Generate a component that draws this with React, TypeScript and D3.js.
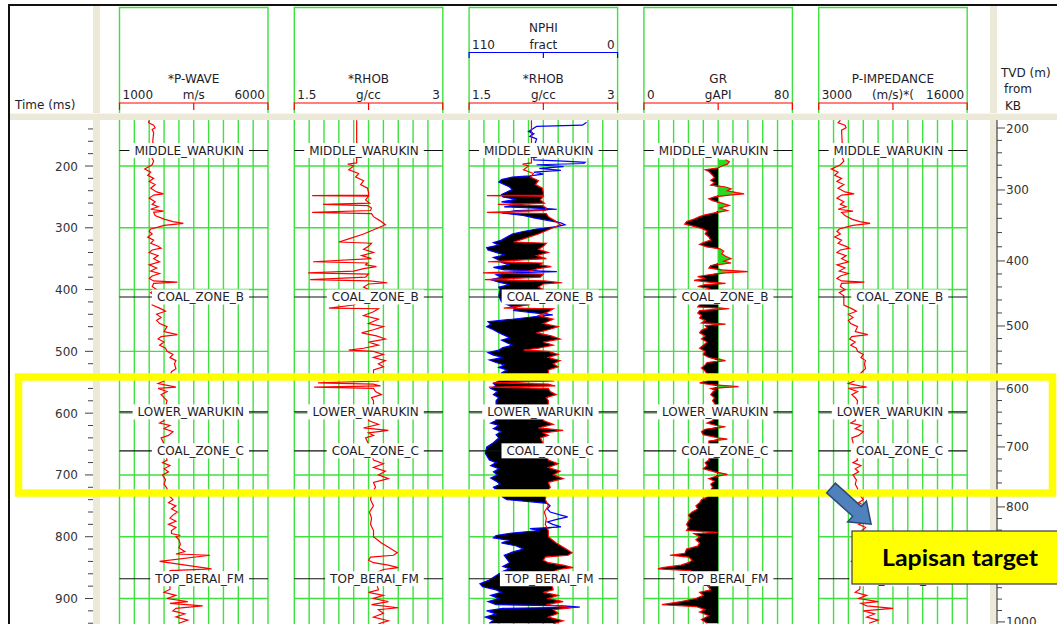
import React from 'react';
import * as d3 from 'd3';

type Pt = [number, number];

// ---- track definitions ----
const TRACK_TITLES = ['*P-WAVE', '*RHOB', '*RHOB', 'GR', 'P-IMPEDANCE'];
const TRACK_UNITS = ['m/s', 'g/cc', 'g/cc', 'gAPI', '(m/s)*('];
const TRACK_MIN = [1000, 1.5, 1.5, 0, 3000];
const TRACK_MAX = [6000, 3, 3, 80, 16000];
const NPHI_TITLE = 'NPHI';
const NPHI_UNIT = 'fract';
const NPHI_RANGE: [number, number] = [110, 0];
const GR_CUTOFF = 40;

// ---- axes ----
const TIME_LABELS = [200, 300, 400, 500, 600, 700, 800, 900];
const TVD_DEPTHS = [200, 300, 400, 500, 600, 700, 800, 900, 1000];
const TVD_TIMES = [138.5, 238.8, 353.7, 458.9, 560.8, 654.7, 751.8, 845.6, 937.9];

// ---- formation tops (time, ms) ----
const MARKER_NAMES = ['MIDDLE_WARUKIN', 'COAL_ZONE_B', 'LOWER_WARUKIN', 'COAL_ZONE_C', 'TOP_BERAI_FM'];
const MARKER_TIMES = [175, 412, 598, 661, 868];

// ---- log curves: [time ms, value] ----
const PWAVE: Pt[] = [
  [126, 2000], [130, 1980], [134, 2150], [138, 2200], [141, 2100], [146, 2150], [160, 2120], [175, 2150], [188, 2100],
  [192, 2150], [198, 2100], [205, 1850], [210, 2050], [215, 1950], [220, 2150], [225, 2000], [230, 2200], [236, 2050],
  [242, 2250], [245, 2480], [247, 2150], [252, 2000], [258, 2200], [262, 2100], [266, 2300], [270, 2050], [273, 2480],
  [275, 2150], [280, 2200], [286, 2500], [290, 2800], [293, 3150], [296, 2500], [299, 2300], [302, 2050], [306, 2000],
  [310, 2100], [315, 1950], [320, 2150], [325, 2050], [330, 2300], [333, 2400], [336, 2100], [340, 2000], [345, 2300],
  [350, 2150], [355, 2350], [360, 2000], [365, 2250], [370, 2050], [374, 2350], [378, 2100], [382, 2000], [386, 2150],
  [388, 2950], [390, 2150], [395, 2100], [400, 2250], [405, 2050], [410, 2200], [418, 2150], [425, 2100], [430, 2350],
  [435, 2550], [440, 2250], [445, 2400], [450, 2250], [455, 2350], [460, 2600], [468, 2500], [473, 2950], [476, 2400],
  [480, 2300], [485, 2500], [490, 2350], [495, 2550], [500, 2600], [505, 2800], [510, 2700], [515, 2900], [520, 2850],
  [528, 2900], [533, 2750], [540, 2700], [548, 2500], [552, 2300], [556, 2700], [558, 2900], [560, 2300], [565, 2600],
  [570, 2400], [575, 2500], [580, 2600], [590, 2550], [600, 2500], [612, 2500], [616, 2350], [620, 2700], [625, 2500],
  [630, 2800], [636, 2650], [640, 2400], [650, 2500], [665, 2550], [676, 2600], [680, 2450], [685, 2700], [690, 2500],
  [695, 2650], [700, 2450], [708, 2550], [715, 2500], [722, 2600], [730, 2600], [735, 2700], [740, 2800], [745, 2650],
  [750, 2900], [755, 2750], [760, 2950], [765, 2800], [770, 2700], [775, 2900], [780, 2650], [785, 2900], [790, 2750],
  [795, 2750], [798, 3050], [800, 2900], [805, 3000], [812, 3050], [818, 3000], [824, 3200], [828, 2900], [830, 4050],
  [840, 2350], [852, 4100], [855, 2700], [862, 2650], [875, 2700], [885, 2700], [890, 2500], [895, 2900], [900, 2600],
  [905, 3300], [908, 2700], [912, 3800], [916, 2900], [920, 2800], [925, 3200], [930, 2900], [935, 3300], [940, 3000],
];

const RHOB: Pt[] = [
  [126, 2.13], [142, 2.13], [190, 2.13], [195, 2.13], [197, 2.04], [200, 2.1], [206, 2.05], [212, 2.15], [218, 2.12],
  [224, 2.2], [230, 2.17], [236, 2.24], [243, 2.25], [247, 2.25], [248, 1.68], [249, 2.25], [255, 2.22], [260, 2.26],
  [262, 1.79], [264, 2.24], [268, 2.28], [272, 2.27], [275, 1.68], [277, 2.28], [282, 2.3], [288, 2.36], [295, 2.42],
  [300, 2.35], [310, 2.2], [318, 2.05], [323, 1.95], [325, 2.28], [330, 2.25], [335, 2.2], [340, 2.3], [345, 2.18],
  [350, 2.28], [355, 1.69], [357, 2.24], [360, 2.22], [363, 2.33], [366, 2.2], [370, 2.1], [373, 1.64], [375, 2.25],
  [380, 2.22], [384, 1.66], [386, 2.26], [389, 2.44], [391, 2.25], [396, 2.2], [400, 2.25], [410, 2.22], [425, 2.1],
  [430, 1.85], [431, 2.35], [436, 2.3], [442, 2.2], [448, 2.35], [455, 2.25], [460, 2.4], [465, 2.3], [470, 2.18],
  [475, 2.33], [480, 2.42], [485, 2.25], [490, 2.35], [495, 2.2], [498, 2.05], [500, 2.3], [505, 2.4], [510, 2.3],
  [515, 2.42], [520, 2.35], [525, 2.4], [530, 2.3], [540, 2.3], [548, 2.35], [551, 1.74], [553, 2.3], [556, 2.37],
  [558, 1.7], [560, 2.3], [565, 2.32], [570, 2.38], [575, 2.28], [580, 2.3], [590, 2.3], [600, 2.25], [612, 2.25],
  [618, 2.35], [624, 2.2], [628, 2.45], [632, 2.25], [636, 2.3], [640, 2.22], [650, 2.25], [676, 2.3], [682, 2.4],
  [688, 2.3], [694, 2.42], [700, 2.35], [706, 2.45], [712, 2.3], [720, 2.32], [730, 2.28], [740, 2.27], [750, 2.3],
  [760, 2.26], [770, 2.28], [780, 2.27], [790, 2.3], [800, 2.3], [810, 2.38], [818, 2.46], [826, 2.54], [830, 2.5],
  [833, 2.27], [838, 2.25], [842, 2.3], [846, 2.45], [850, 2.55], [853, 2.4], [860, 2.3], [886, 2.35], [890, 2.25],
  [895, 2.4], [900, 2.3], [905, 2.45], [910, 2.28], [915, 2.55], [918, 2.35], [924, 2.4], [930, 2.3], [936, 2.45],
  [941, 2.35],
];

const NPHI: Pt[] = [
  [129, 23], [131, 24], [134, 26], [136, 60], [140, 63], [144, 66], [148, 62], [152, 65], [156, 60], [170, 62],
  [186, 62], [190, 62], [192, 40], [194, 24], [196, 25], [198, 60], [201, 40], [204, 58], [207, 42], [210, 62],
  [213, 55], [216, 65], [218, 78], [222, 86], [226, 88], [230, 84], [234, 80], [238, 78], [242, 82], [246, 86],
  [250, 85], [254, 75], [258, 86], [262, 72], [266, 84], [270, 45], [272, 75], [276, 86], [280, 70], [284, 62],
  [288, 52], [292, 42], [295, 39], [298, 45], [302, 60], [306, 70], [310, 78], [315, 82], [320, 86], [324, 92],
  [328, 88], [332, 97], [336, 96], [340, 90], [344, 84], [348, 92], [352, 88], [356, 86], [360, 80], [364, 92],
  [368, 84], [371, 45], [373, 82], [376, 90], [380, 86], [384, 94], [388, 88], [392, 80], [396, 88], [400, 87],
  [410, 88], [420, 86], [426, 80], [430, 76], [434, 77], [438, 60], [441, 48], [444, 62], [448, 78], [452, 96],
  [456, 94], [460, 97], [465, 92], [470, 88], [474, 84], [478, 80], [482, 86], [486, 82], [490, 78], [494, 85],
  [498, 88], [502, 96], [506, 92], [510, 85], [514, 95], [518, 90], [522, 84], [526, 88], [530, 82], [535, 86],
  [540, 87], [548, 88], [552, 92], [556, 90], [560, 94], [565, 89], [570, 92], [575, 88], [580, 90], [590, 90],
  [600, 91], [612, 90], [616, 94], [620, 88], [625, 92], [630, 86], [635, 90], [640, 88], [648, 92], [655, 97],
  [665, 98], [676, 95], [680, 90], [685, 94], [690, 88], [695, 92], [700, 89], [705, 94], [710, 90], [715, 87],
  [720, 92], [728, 88], [736, 85], [740, 82], [746, 52], [750, 50], [755, 52], [760, 50], [765, 42], [768, 37],
  [772, 45], [776, 52], [780, 48], [784, 42], [787, 65], [790, 58], [794, 78], [798, 90], [802, 92], [806, 80],
  [810, 86], [815, 75], [820, 70], [825, 78], [830, 84], [836, 82], [842, 80], [848, 85], [852, 80], [856, 85],
  [870, 95], [876, 102], [881, 100], [886, 90], [890, 86], [895, 94], [900, 88], [905, 96], [910, 90], [912, 40],
  [914, 28], [916, 85], [920, 97], [925, 90], [930, 98], [935, 92], [940, 95],
];

const GR: Pt[] = [
  [190, 44], [193, 46], [197, 45], [200, 42], [203, 40], [206, 33], [209, 35], [212, 36], [215, 37], [219, 38],
  [223, 36], [227, 38], [231, 36], [234, 44], [237, 47], [240, 45], [243, 50], [245, 54], [247, 46], [250, 38],
  [253, 35], [256, 37], [260, 42], [264, 46], [268, 41], [272, 45], [276, 38], [279, 33], [282, 30], [286, 27],
  [290, 23], [294, 22], [297, 26], [301, 31], [305, 34], [310, 33], [315, 35], [320, 36], [324, 32], [327, 30],
  [331, 34], [334, 41], [338, 43], [342, 42], [346, 44], [350, 47], [354, 43], [357, 47], [361, 36], [365, 35],
  [368, 42], [371, 56], [373, 44], [376, 35], [379, 29], [382, 33], [385, 27], [388, 35], [390, 44], [392, 33],
  [395, 29], [398, 35], [402, 32], [410, 30], [420, 31], [428, 29], [431, 46], [434, 30], [438, 29], [442, 31],
  [446, 30], [450, 33], [454, 31], [456, 44], [458, 33], [462, 34], [466, 31], [470, 30], [475, 33], [480, 31],
  [485, 34], [490, 32], [495, 30], [500, 33], [505, 32], [510, 35], [515, 44], [518, 34], [522, 33], [527, 31],
  [532, 33], [537, 34], [542, 33], [548, 34], [551, 30], [554, 36], [557, 51], [560, 36], [563, 38], [566, 37],
  [570, 36], [575, 38], [580, 37], [584, 38], [598, 37], [612, 37], [616, 34], [620, 39], [622, 44], [626, 33],
  [630, 31], [635, 32], [640, 40], [642, 45], [645, 35], [660, 35], [676, 35], [680, 33], [685, 34], [690, 32],
  [695, 38], [699, 45], [703, 38], [706, 35], [710, 38], [715, 36], [720, 37], [728, 35], [736, 34], [740, 31],
  [745, 30], [750, 28], [755, 29], [760, 26], [765, 24], [770, 25], [775, 24], [780, 23], [785, 24], [790, 23],
  [793, 40], [795, 27], [800, 30], [805, 28], [810, 30], [815, 29], [820, 23], [827, 22], [830, 14], [833, 24],
  [838, 26], [842, 24], [846, 20], [850, 10], [852, 7.5], [855, 25], [868, 30], [882, 35], [886, 36], [890, 30],
  [895, 32], [900, 28], [905, 20], [910, 9.7], [913, 28], [918, 33], [922, 30], [928, 35], [934, 31], [940, 34],
];

const PIMP: Pt[] = [
  [126, 4900], [130, 4700], [134, 5300], [138, 5400], [142, 5000], [160, 5050], [175, 5100], [188, 5100], [192, 5200],
  [198, 4900], [205, 4100], [210, 4700], [215, 4400], [220, 5000], [225, 4600], [230, 5200], [236, 4700], [242, 5300],
  [245, 6100], [247, 5000], [252, 4600], [258, 5200], [262, 4900], [266, 5400], [270, 4700], [273, 6000], [275, 5000],
  [280, 5300], [286, 5900], [290, 6600], [293, 7500], [296, 6000], [299, 5400], [302, 4800], [306, 4600], [310, 4900],
  [315, 4400], [320, 5000], [325, 4700], [330, 5400], [333, 5700], [336, 4900], [340, 4600], [345, 5400], [350, 5000],
  [355, 5600], [360, 4600], [365, 5300], [370, 4800], [374, 5600], [378, 4900], [382, 4600], [386, 5000], [388, 7000],
  [390, 5000], [395, 4900], [400, 5300], [405, 4800], [410, 5200], [425, 5200], [430, 5800], [435, 6300], [440, 5600],
  [445, 6000], [450, 5600], [455, 5800], [460, 6400], [468, 6200], [473, 7300], [476, 5900], [480, 5700], [485, 6200],
  [490, 5800], [495, 6300], [500, 6400], [505, 6900], [510, 6700], [515, 7100], [520, 7000], [528, 7100], [533, 6800],
  [548, 6100], [552, 5600], [556, 6600], [558, 7200], [560, 5600], [565, 6400], [570, 5900], [575, 6200], [580, 6400],
  [612, 6200], [616, 5800], [620, 6700], [625, 6200], [630, 6900], [636, 6500], [640, 5900], [676, 6400], [680, 6000],
  [685, 6700], [690, 6200], [695, 6500], [700, 6000], [708, 6300], [715, 6200], [722, 6400], [730, 6400], [735, 6700],
  [740, 6900], [745, 6500], [750, 7100], [755, 6800], [760, 7300], [765, 6900], [770, 6700], [775, 7100], [780, 6500],
  [785, 7100], [790, 6800], [795, 6900], [798, 7600], [800, 7200], [805, 7400], [812, 7600], [818, 7400], [824, 7900],
  [828, 7200], [830, 10200], [840, 5800], [852, 10500], [855, 6700], [885, 6600], [890, 6200], [895, 7200], [900, 6500],
  [905, 8200], [908, 6700], [912, 7200], [916, 9500], [920, 6900], [925, 7900], [930, 7200], [935, 8200], [940, 7400],
];

const FONT = '"DejaVu Sans", Verdana, sans-serif';
const GRID = '#3fe03f';
const BEIGE = '#ece9d8';
const TEXT = '#1e1e2a';

function valueAt(series: Pt[], t: number): number {
  const i = d3.bisector((d: Pt) => d[0]).left(series, t);
  if (i <= 0) return series[0][1];
  if (i >= series.length) return series[series.length - 1][1];
  const a = series[i - 1];
  const b = series[i];
  return a[1] + ((b[1] - a[1]) * (t - a[0])) / (b[0] - a[0]);
}

function textWidth(s: string, font: string): number {
  if (typeof document === 'undefined') return s.length * 7.8;
  const c = document.createElement('canvas').getContext('2d');
  if (!c) return s.length * 7.8;
  c.font = font;
  return c.measureText(s).width;
}

export default function App() {
  const W = 1057;
  const H = 624;
  const DATA_TOP = 120;
  const DATA_BOTTOM = H;
  const TRACK_W = 148.5;
  const trackLeft = (i: number) => 119.5 + 174.8 * i;

  const y = d3.scaleLinear().domain([200, 900]).range([166, 598.5]);
  const tvdToTime = d3.scaleLinear().domain(TVD_DEPTHS).range(TVD_TIMES);
  const xs = TRACK_TITLES.map((_, i) =>
    d3.scaleLinear().domain([TRACK_MIN[i], TRACK_MAX[i]]).range([trackLeft(i), trackLeft(i) + TRACK_W])
  );
  const xNphi = d3.scaleLinear().domain(NPHI_RANGE).range([trackLeft(2), trackLeft(2) + TRACK_W]);

  const curve = (sx: d3.ScaleLinear<number, number>) =>
    d3.line<Pt>().x((d) => sx(d[1])).y((d) => y(d[0]));

  // neutron-density crossover fill
  const n0 = NPHI[0][0];
  const n1 = NPHI[NPHI.length - 1][0];
  const crossTimes = Array.from(
    new Set([...NPHI.map((d) => d[0]), ...RHOB.map((d) => d[0]).filter((t) => t >= n0 && t <= n1)])
  ).sort((a, b) => a - b);
  const cross = crossTimes.map((t) => ({ t, xn: xNphi(valueAt(NPHI, t)), xr: xs[2](valueAt(RHOB, t)) }));
  const crossArea = d3
    .area<{ t: number; xn: number; xr: number }>()
    .y((d) => y(d.t))
    .x0((d) => d.xn)
    .x1((d) => Math.max(d.xn, d.xr));

  // GR cutoff fills
  const xg = xs[3];
  const grLow = d3.area<Pt>().y((d) => y(d[0])).x0(() => xg(GR_CUTOFF)).x1((d) => xg(Math.min(d[1], GR_CUTOFF)));
  const grHigh = d3.area<Pt>().y((d) => y(d[0])).x0(() => xg(GR_CUTOFF)).x1((d) => xg(Math.max(d[1], GR_CUTOFF)));

  const timeTicks = d3.range(140, 941, 20);
  const tvdTicks = d3.range(200, 1001, 20);
  const markerFont = `12px ${FONT}`;

  const trackCurves = (i: number) => {
    if (i === 0) return <path d={curve(xs[0])(PWAVE) || ''} fill="none" stroke="#ff0000" strokeWidth={1.2} />;
    if (i === 1) return <path d={curve(xs[1])(RHOB) || ''} fill="none" stroke="#ff0000" strokeWidth={1.2} />;
    if (i === 2)
      return (
        <g>
          <path d={crossArea(cross) || ''} fill="#000" />
          <path d={curve(xNphi)(NPHI) || ''} fill="none" stroke="#0000ff" strokeWidth={1.2} />
          <path d={curve(xs[2])(RHOB) || ''} fill="none" stroke="#ff0000" strokeWidth={1.2} />
        </g>
      );
    if (i === 3)
      return (
        <g>
          <path d={grLow(GR) || ''} fill="#000" />
          <path d={grHigh(GR) || ''} fill="#22dd22" />
          <path d={curve(xs[3])(GR) || ''} fill="none" stroke="#ff0000" strokeWidth={1.2} />
        </g>
      );
    return <path d={curve(xs[4])(PIMP) || ''} fill="none" stroke="#ff0000" strokeWidth={1.2} />;
  };

  // block arrow pointing at the target interval
  const arrowLen = 54;
  const headLen = 19;
  const arrowPts = [
    [0, -6.5], [arrowLen - headLen, -6.5], [arrowLen - headLen, -14], [arrowLen, 0],
    [arrowLen - headLen, 14], [arrowLen - headLen, 6.5], [0, 6.5],
  ].map((p) => p.join(',')).join(' ');

  return (
    <svg
      width={W}
      height={H}
      viewBox={`0 0 ${W} ${H}`}
      style={{ position: 'absolute', left: 0, top: 0, background: '#fff', fontFamily: FONT }}
    >
      <defs>
        <clipPath id="data-clip">
          <rect x={0} y={DATA_TOP} width={W} height={DATA_BOTTOM - DATA_TOP} />
        </clipPath>
      </defs>

      {/* frame and separators */}
      <rect x={0} y={0} width={W} height={H} fill="#fff" />
      <rect x={93} y={6} width={7} height={H - 6} fill={BEIGE} />
      <rect x={990} y={6} width={7} height={H - 6} fill={BEIGE} />
      <rect x={9} y={113} width={W - 9} height={7} fill={BEIGE} />
      <line x1={9} x2={W} y1={113.5} y2={113.5} stroke="#f7f6f0" strokeWidth={1} />
      <line x1={8} x2={W} y1={5} y2={5} stroke="#111" strokeWidth={2} />
      <line x1={9} x2={9} y1={4} y2={H} stroke="#111" strokeWidth={2} />

      {/* header labels */}
      <text x={15} y={109} fontSize={12} fill={TEXT}>Time (ms)</text>
      <text x={1001} y={77} fontSize={12} fill={TEXT}>TVD (m)</text>
      <text x={1004} y={93} fontSize={12} fill={TEXT}>from</text>
      <text x={1005} y={110} fontSize={12} fill={TEXT}>KB</text>

      {TRACK_TITLES.map((title, i) => {
        const l = trackLeft(i);
        const r = l + TRACK_W;
        const c = (l + r) / 2;
        return (
          <g key={`hdr-${i}`}>
            <path d={`M${l},113 V7.5 H${r} V113`} fill="none" stroke={GRID} strokeWidth={1.4} />
            <text x={c} y={82.5} fontSize={12} textAnchor="middle" fill={TEXT}>{title}</text>
            <text x={l + 3} y={99} fontSize={12} fill={TEXT}>{String(TRACK_MIN[i])}</text>
            <text x={c} y={99} fontSize={12} textAnchor="middle" fill={TEXT}>{TRACK_UNITS[i]}</text>
            <text x={r - 3} y={99} fontSize={12} textAnchor="end" fill={TEXT}>{String(TRACK_MAX[i])}</text>
            <path
              d={`M${l},110 V103 H${r} V110 M${c},103 V110`}
              fill="none"
              stroke="#ff0000"
              strokeWidth={1.2}
            />
            {i === 2 && (
              <g>
                <text x={c} y={32} fontSize={12} textAnchor="middle" fill={TEXT}>{NPHI_TITLE}</text>
                <text x={l + 3} y={49} fontSize={12} fill={TEXT}>{String(NPHI_RANGE[0])}</text>
                <text x={c} y={49} fontSize={12} textAnchor="middle" fill={TEXT}>{NPHI_UNIT}</text>
                <text x={r - 3} y={49} fontSize={12} textAnchor="end" fill={TEXT}>{String(NPHI_RANGE[1])}</text>
                <path
                  d={`M${l},58 V52.5 H${r} V58 M${c},52.5 V58`}
                  fill="none"
                  stroke="#0000ff"
                  strokeWidth={1.2}
                />
              </g>
            )}
          </g>
        );
      })}

      {/* data tracks */}
      <g clipPath="url(#data-clip)">
        {TRACK_TITLES.map((_, i) => {
          const l = trackLeft(i);
          const r = l + TRACK_W;
          return (
            <g key={`trk-${i}`}>
              {d3.range(11).map((k) => (
                <line
                  key={`v${k}`}
                  x1={l + (k * TRACK_W) / 10}
                  x2={l + (k * TRACK_W) / 10}
                  y1={DATA_TOP}
                  y2={DATA_BOTTOM}
                  stroke={GRID}
                  strokeWidth={1.4}
                />
              ))}
              {TIME_LABELS.map((t) => (
                <line key={`h${t}`} x1={l} x2={r} y1={y(t)} y2={y(t)} stroke={GRID} strokeWidth={1.4} />
              ))}
              {trackCurves(i)}
              {MARKER_NAMES.map((name, m) => {
                const my = y(MARKER_TIMES[m]);
                const tw = textWidth(name, markerFont);
                const end = l + 124.5;
                return (
                  <g key={`mk${m}`}>
                    <line x1={l} x2={r} y1={my} y2={my} stroke="#111" strokeWidth={1.1} />
                    <rect x={end - tw - 5} y={my - 7.5} width={tw + 10} height={15} fill="#fff" />
                    <text x={end} y={my + 4.3} fontSize={12} textAnchor="end" fill={TEXT}>{name}</text>
                  </g>
                );
              })}
            </g>
          );
        })}

        {/* time axis */}
        {timeTicks.map((t) => {
          const major = t % 100 === 0;
          return (
            <line
              key={`tt${t}`}
              x1={major ? 85 : 88}
              x2={93}
              y1={y(t)}
              y2={y(t)}
              stroke="#444"
              strokeWidth={1}
            />
          );
        })}
        {TIME_LABELS.map((t) => (
          <text key={`tl${t}`} x={78} y={y(t) + 4.5} fontSize={12} textAnchor="end" fill="#333">{t}</text>
        ))}

        {/* TVD axis */}
        <line x1={997} x2={997} y1={DATA_TOP} y2={DATA_BOTTOM} stroke="#444" strokeWidth={1.2} />
        {tvdTicks.map((d) => {
          const major = d % 100 === 0;
          const ty = y(tvdToTime(d));
          return (
            <line key={`vt${d}`} x1={997} x2={major ? 1005 : 1002} y1={ty} y2={ty} stroke="#444" strokeWidth={1} />
          );
        })}
        {TVD_DEPTHS.map((d) => (
          <text key={`vl${d}`} x={1006} y={y(tvdToTime(d)) + 4.5} fontSize={12} fill="#333">{d}</text>
        ))}
      </g>

      {/* target interval annotation */}
      <rect x={18.5} y={377} width={1034} height={116} fill="none" stroke="#ffff00" strokeWidth={7.5} />
      <polygon
        points={arrowPts}
        transform="translate(831,488) rotate(42)"
        fill="#4f81bd"
        stroke="#2c4a74"
        strokeWidth={1.5}
        strokeLinejoin="miter"
      />
      <rect x={852} y={531} width={230} height={53} fill="#ffff00" stroke="#3a3a3a" strokeWidth={1.2} />
      <text
        x={882}
        y={566}
        fontFamily="Lato, 'Liberation Sans', sans-serif"
        fontWeight="bold"
        fontSize={22}
        textLength={156}
        lengthAdjust="spacingAndGlyphs"
        fill="#000"
      >
        Lapisan target
      </text>
    </svg>
  );
}
